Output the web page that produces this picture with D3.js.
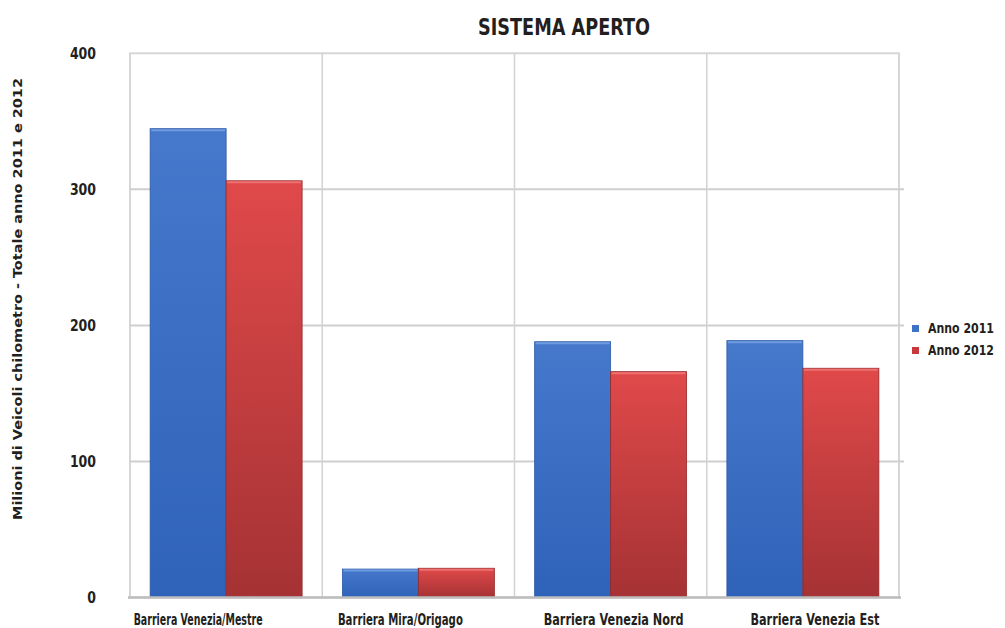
<!DOCTYPE html>
<html>
<head>
<meta charset="utf-8">
<script src="https://cdn.jsdelivr.net/npm/d3@7"></script>
<style>
  body { margin: 0; background: #fff; }
  text { font-family: "DejaVu Sans Condensed", "DejaVu Sans", sans-serif; font-weight: bold; fill: #231f20; }
</style>
</head>
<body>
<div class="chart"></div>
<script>
// data
var categories = ["Barriera Venezia/Mestre", "Barriera Mira/Origago", "Barriera Venezia Nord", "Barriera Venezia Est"];
var seriesNames = ["Anno 2011", "Anno 2012"];
var anno2011 = [344.6, 20.9, 188, 188.8];
var anno2012 = [306.3, 21.5, 166, 168.5];
var yTicks = [0, 100, 200, 300, 400];

var width = 1005, height = 628;
var plot = { left: 130, right: 899, top: 53.3, bottom: 597.5 };

var svg = d3.select(".chart").append("svg")
    .attr("width", width)
    .attr("height", height);

// the print uses a narrow font; squeeze the fallback to the widths measured there
function squeeze(sel, w) {
    sel.attr("textLength", w).attr("lengthAdjust", "spacingAndGlyphs");
}

var defs = svg.append("defs");
var gradBlue = defs.append("linearGradient").attr("id", "gBlue").attr("x1", 0).attr("y1", 0).attr("x2", 0).attr("y2", 1);
gradBlue.append("stop").attr("offset", "0%").attr("stop-color", "#4679cc");
gradBlue.append("stop").attr("offset", "100%").attr("stop-color", "#2f63b9");
var gradRed = defs.append("linearGradient").attr("id", "gRed").attr("x1", 0).attr("y1", 0).attr("x2", 0).attr("y2", 1);
gradRed.append("stop").attr("offset", "0%").attr("stop-color", "#e0494a");
gradRed.append("stop").attr("offset", "100%").attr("stop-color", "#a53234");

var colors = ["url(#gBlue)", "url(#gRed)"];
var edges = ["#2c5aa6", "#93282a"];
var swatch = ["#3d72c6", "#c9393b"];

var x0 = d3.scaleBand().domain(categories).range([plot.left, plot.right]).padding(0);
var x1 = d3.scaleBand().domain(seriesNames).range([0, x0.bandwidth()]).paddingInner(0).paddingOuter(0.265);
var y = d3.scaleLinear().domain([0, 400]).range([plot.bottom, plot.top]);

// frame + grid
svg.append("rect")
    .attr("x", plot.left).attr("y", plot.top)
    .attr("width", plot.right - plot.left).attr("height", plot.bottom - plot.top)
    .attr("fill", "#fff").attr("stroke", "#d6d6d6").attr("stroke-width", 2);

svg.append("g").selectAll("line")
    .data(yTicks.slice(1, -1))
    .join("line")
    .attr("x1", plot.left).attr("x2", plot.right + 5)
    .attr("y1", d => y(d)).attr("y2", d => y(d))
    .attr("stroke", "#cfcfcf").attr("stroke-width", 2);

svg.append("g").selectAll("line")
    .data(categories.slice(1))
    .join("line")
    .attr("x1", d => x0(d)).attr("x2", d => x0(d))
    .attr("y1", plot.top).attr("y2", plot.bottom)
    .attr("stroke", "#d2d2d2").attr("stroke-width", 1.5);

// bars
var rows = categories.map((c, i) => ({ cat: c, vals: [anno2011[i], anno2012[i]] }));
var groups = svg.append("g").selectAll("g")
    .data(rows)
    .join("g")
    .attr("transform", d => "translate(" + x0(d.cat) + ",0)");

groups.selectAll("rect.bar")
    .data(d => d.vals.map((v, j) => ({ s: seriesNames[j], v: v, j: j })))
    .join("rect")
    .attr("class", "bar")
    .attr("x", d => x1(d.s))
    .attr("y", d => y(d.v))
    .attr("width", x1.bandwidth())
    .attr("height", d => y(0) - y(d.v))
    .attr("fill", d => colors[d.j])
    .attr("stroke", d => edges[d.j])
    .attr("stroke-width", 0.8);

// light highlight along the top of each bar
groups.selectAll("line.hl")
    .data(d => d.vals.map((v, j) => ({ s: seriesNames[j], v: v, j: j })))
    .join("line")
    .attr("class", "hl")
    .attr("x1", d => x1(d.s) + 1).attr("x2", d => x1(d.s) + x1.bandwidth() - 1)
    .attr("y1", d => y(d.v) + 1.5).attr("y2", d => y(d.v) + 1.5)
    .attr("stroke", d => d.j == 0 ? "#6f9be0" : "#ee7070")
    .attr("stroke-width", 2);

// baseline
svg.append("line")
    .attr("x1", plot.left - 2).attr("x2", plot.right + 2)
    .attr("y1", y(0)).attr("y2", y(0))
    .attr("stroke", "#bdbdbd").attr("stroke-width", 2.5);

// y axis labels
var yAxis = svg.append("g")
    .attr("transform", "translate(" + plot.left + ",0)")
    .call(d3.axisLeft(y).tickValues(yTicks).tickSize(0).tickPadding(34));
yAxis.select(".domain").remove();
yAxis.selectAll("text")
    .style("font-family", "'DejaVu Sans Condensed', 'DejaVu Sans', sans-serif")
    .style("font-weight", "bold")
    .style("font-size", "15px")
    .attr("fill", "#231f20")
    .each(function (d) { squeeze(d3.select(this), String(d).length * 8.7); });

// x labels (the print sets them a bit off the band centres)
var labelDx = [-28, -18, 3, 12];
var labelW = [129, 125, 140, 129];
svg.append("g").selectAll("text")
    .data(categories)
    .join("text")
    .attr("x", (d, i) => x0(d) + x0.bandwidth() / 2 + labelDx[i] - labelW[i] / 2)
    .attr("y", 625)
    .style("font-size", "15px")
    .text(d => d)
    .each(function (d, i) { squeeze(d3.select(this), labelW[i]); });

// title
svg.append("text")
    .attr("x", 478).attr("y", 35)
    .style("font-size", "23px")
    .text("SISTEMA APERTO")
    .call(squeeze, 172);

// y title
svg.append("text")
    .attr("transform", "translate(22,520) rotate(-90)")
    .style("font-size", "13px")
    .text("Milioni di Veicoli chilometro - Totale anno 2011 e 2012")
    .call(squeeze, 442);

// legend
var legend = svg.append("g").selectAll("g")
    .data(seriesNames)
    .join("g")
    .attr("transform", (d, i) => "translate(912," + (325 + i * 22) + ")");
legend.append("rect")
    .attr("width", 7).attr("height", 7)
    .attr("fill", (d, i) => swatch[i]);
legend.append("text")
    .attr("x", 16).attr("y", 7.5)
    .style("font-size", "13.5px")
    .text(d => d)
    .call(squeeze, 66);
</script>
</body>
</html>
